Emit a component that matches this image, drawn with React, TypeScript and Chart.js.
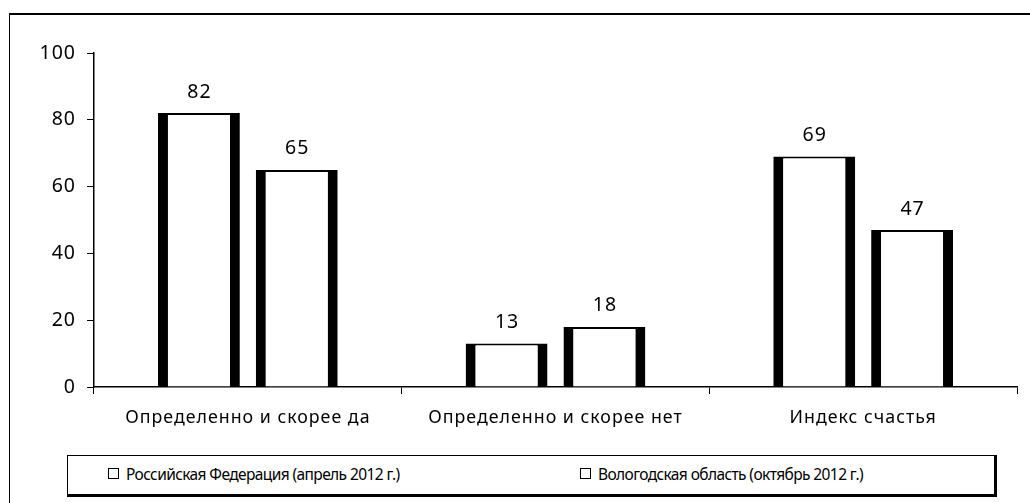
import React, { useEffect, useRef } from "react";
import { Chart, registerables } from "chart.js";

Chart.register(...registerables);

const categories = ["Определенно и скорее да", "Определенно и скорее нет", "Индекс счастья"];
const seriesNames = ["Российская Федерация (апрель 2012 г.)", "Вологодская область (октябрь 2012 г.)"];
const rfValues = [82, 13, 69];
const vologdaValues = [65, 18, 47];
const yTicks = [0, 20, 40, 60, 80, 100];

const FONT = "'Noto Sans', sans-serif";

const spacing = {
  id: "spacing",
  beforeDraw(chart: any) {
    (chart.ctx as any).letterSpacing = "1px";
  },
};

const valueLabels = {
  id: "valueLabels",
  afterDatasetsDraw(chart: any) {
    const ctx = chart.ctx;
    ctx.save();
    (ctx as any).letterSpacing = "1px";
    ctx.fillStyle = "#000";
    ctx.font = `19.5px ${FONT}`;
    ctx.textAlign = "center";
    ctx.textBaseline = "middle";
    chart.data.datasets.forEach((ds: any, i: number) => {
      const meta = chart.getDatasetMeta(i);
      meta.data.forEach((bar: any, j: number) => {
        ctx.fillText(String(ds.data[j]), bar.x + 0.5, bar.y - 21);
      });
    });
    ctx.restore();
  },
};

export default function App() {
  const ref = useRef<HTMLCanvasElement | null>(null);
  useEffect(() => {
    if (!ref.current) return;
    const barStyle = {
      backgroundColor: "#ffffff",
      borderColor: "#000000",
      borderWidth: { top: 2, left: 10, right: 10, bottom: 0 },
      borderSkipped: false as any,
      categoryPercentage: 0.636,
      barPercentage: 0.837,
    };
    const chart = new Chart(ref.current, {
      type: "bar",
      data: {
        labels: categories,
        datasets: [
          { label: seriesNames[0], data: rfValues, ...barStyle },
          { label: seriesNames[1], data: vologdaValues, ...barStyle },
        ],
      },
      options: {
        animation: false,
        responsive: false,
        maintainAspectRatio: false,
        layout: { padding: { top: 53, right: 13, bottom: 0, left: 0 } },
        plugins: { legend: { display: false }, tooltip: { enabled: false } },
        scales: {
          x: {
            grid: {
              display: true,
              drawOnChartArea: false,
              drawTicks: true,
              tickLength: 7,
              color: "#000",
              offset: true,
            },
            border: { display: true, color: "#000", width: 1.5 },
            ticks: { color: "#000", font: { family: FONT, size: 17.8 }, padding: 13, maxRotation: 0 },
            afterFit: (s: any) => { s.height = 503 - 387; },
          },
          y: {
            min: 0,
            max: 100,
            afterBuildTicks: (s: any) => { s.ticks = yTicks.map((v) => ({ value: v })); },
            grid: { display: true, drawOnChartArea: false, drawTicks: true, tickLength: 7, color: "#000" },
            border: { display: true, color: "#000", width: 1.5 },
            ticks: { color: "#000", font: { family: FONT, size: 19.5 }, padding: 11 },
            afterFit: (s: any) => { s.width = 94; },
          },
        },
      },
      plugins: [spacing, valueLabels],
    });
    return () => chart.destroy();
  }, []);

  const square = {
    display: "inline-block",
    width: 11,
    height: 11,
    border: "1.5px solid #000",
    background: "#fff",
    marginRight: 7,
    verticalAlign: "middle",
    boxSizing: "border-box" as const,
  };

  return (
    <div style={{ position: "fixed", left: 0, top: 0, width: 1030, height: 503, background: "#fff", overflow: "hidden" }}>
      <div style={{ position: "absolute", left: 9, top: 13, width: 1040, height: 520, borderLeft: "1.5px solid #000", borderTop: "2px solid #000" }} />
      <canvas ref={ref} width={1030} height={503} style={{ position: "absolute", left: 0, top: 0 }} />
      <div
        style={{
          position: "absolute",
          left: 67,
          top: 455,
          width: 926,
          height: 38,
          borderLeft: "1px solid #000",
          borderTop: "1px solid #000",
          borderRight: "3px solid #000",
          borderBottom: "3px solid #000",
          background: "#fff",
          fontFamily: FONT,
          fontSize: 15.5,
          letterSpacing: "-0.6px",
          color: "#000",
        }}
      >
        <div style={{ position: "absolute", left: 40, top: 5, whiteSpace: "nowrap" }}>
          <span style={square} />
          <span style={{ verticalAlign: "middle" }}>{seriesNames[0]}</span>
        </div>
        <div style={{ position: "absolute", left: 512, top: 5, whiteSpace: "nowrap" }}>
          <span style={square} />
          <span style={{ verticalAlign: "middle" }}>{seriesNames[1]}</span>
        </div>
      </div>
    </div>
  );
}
